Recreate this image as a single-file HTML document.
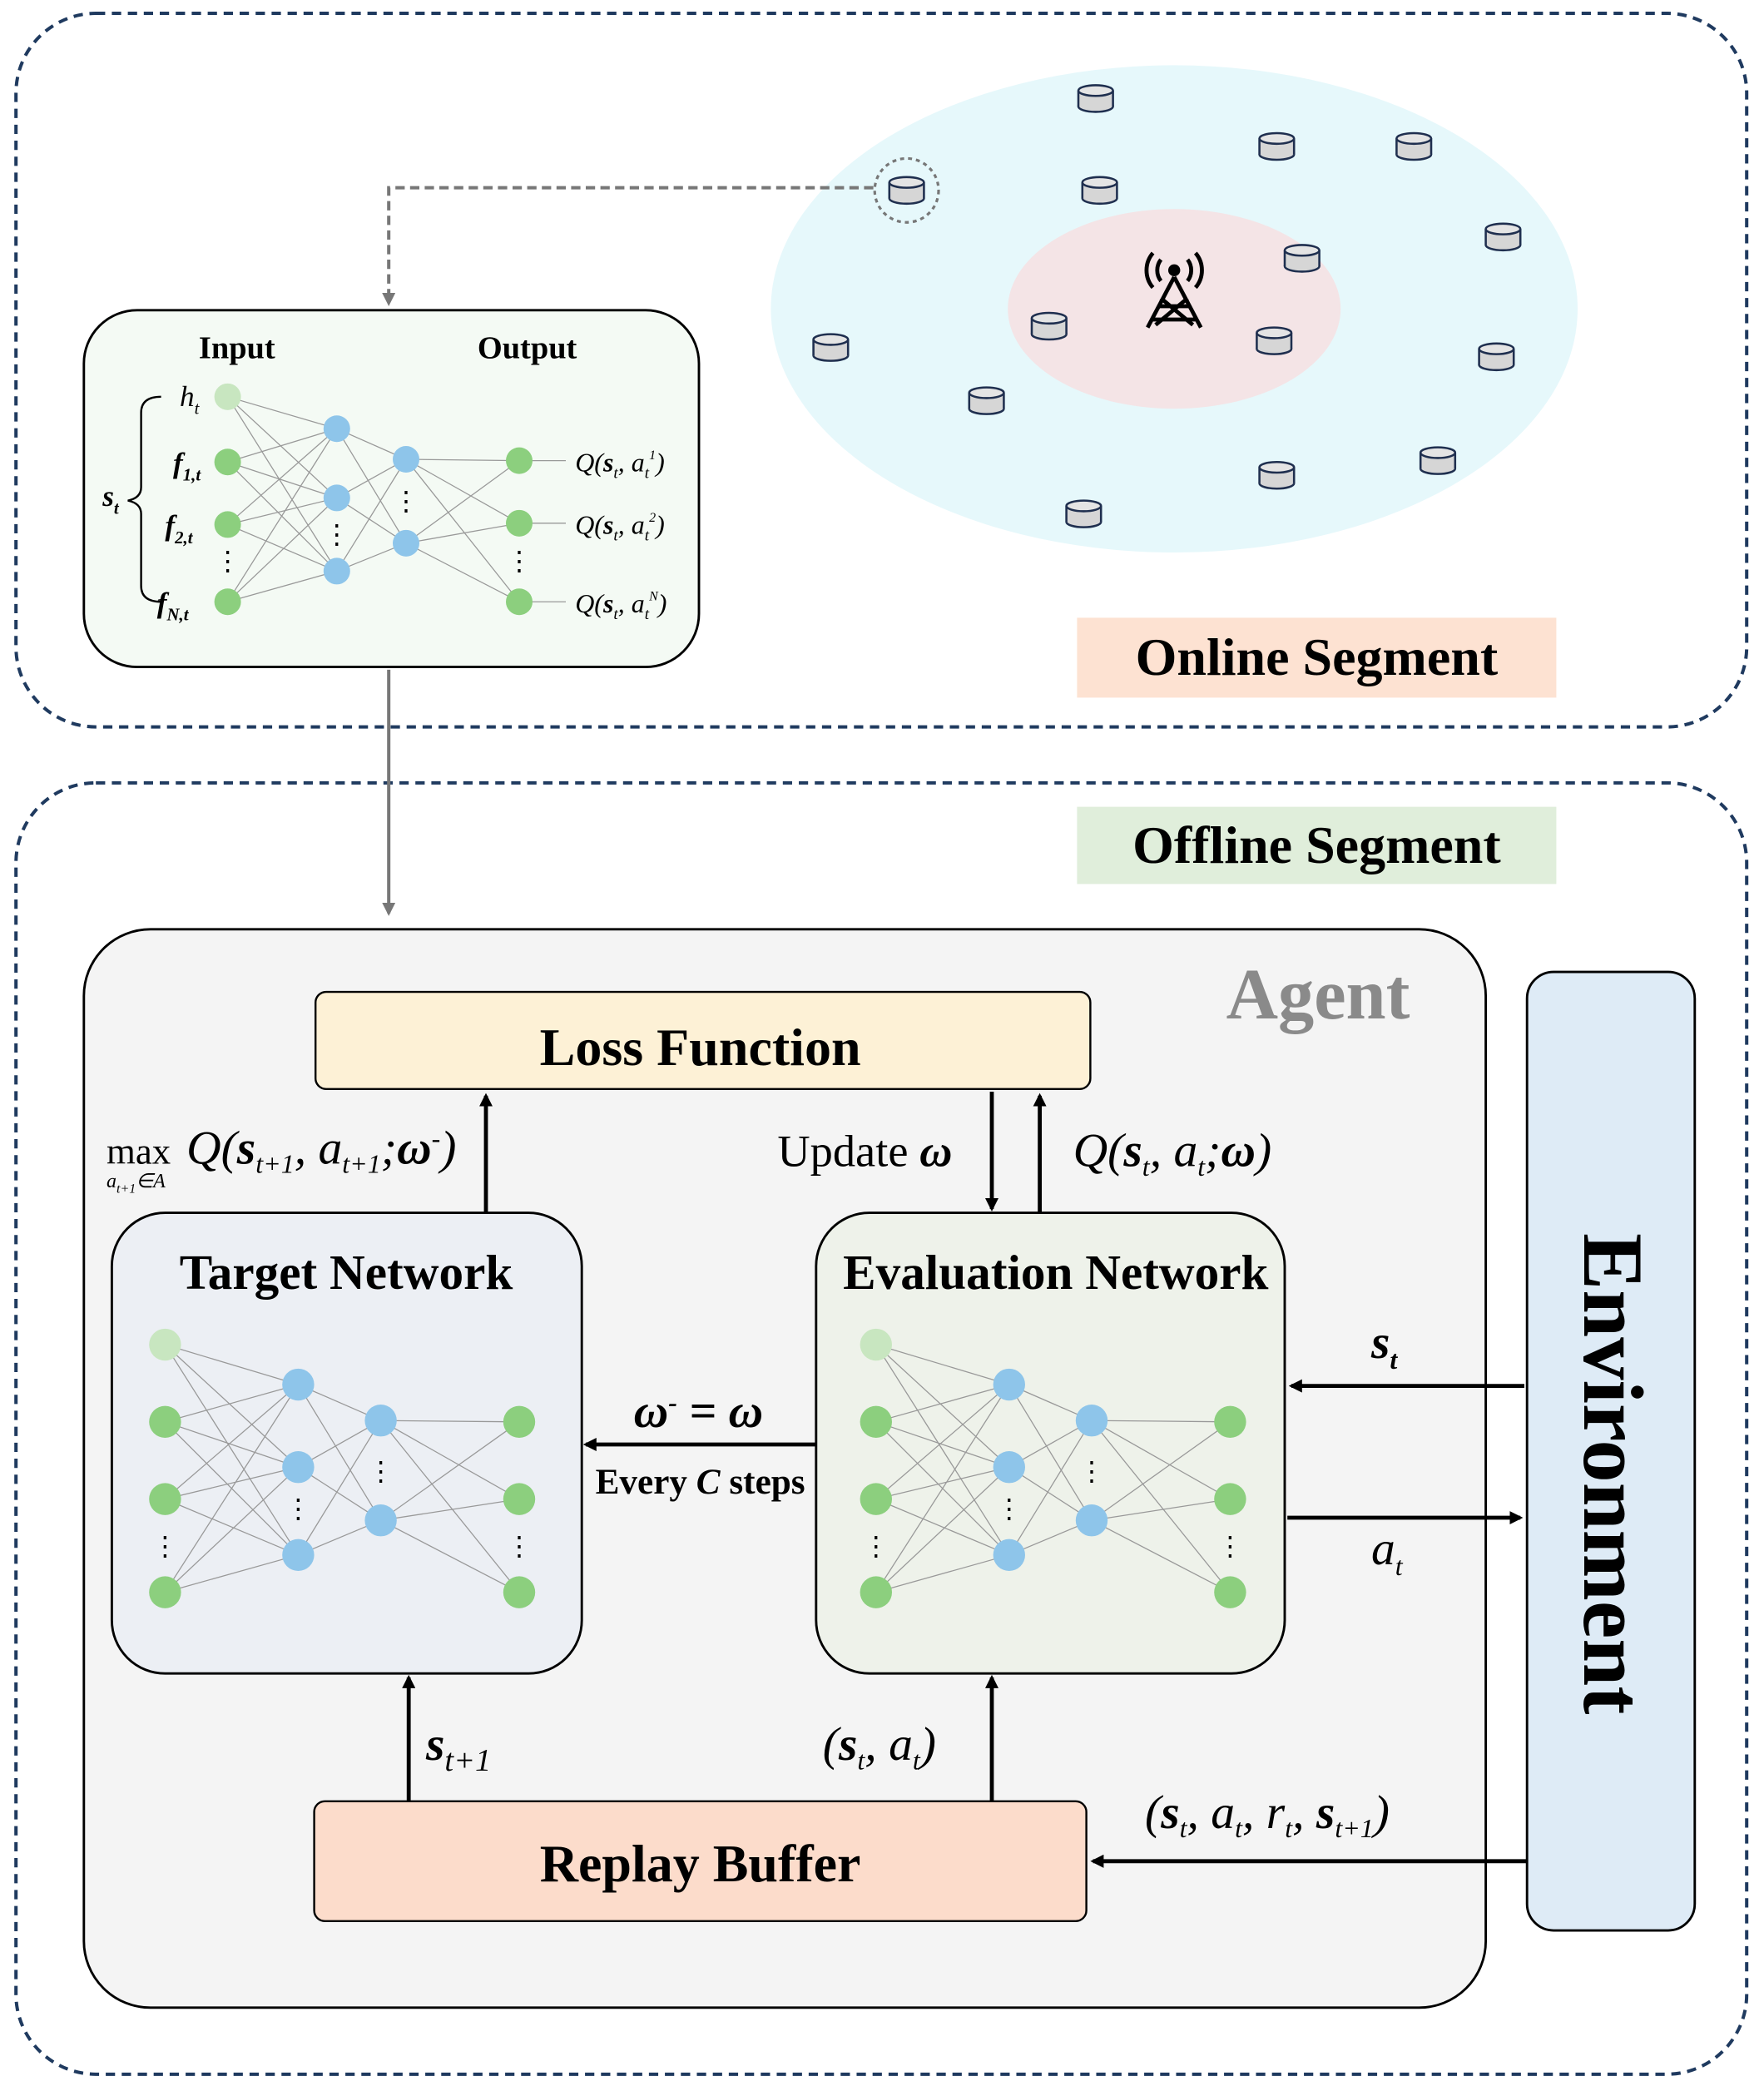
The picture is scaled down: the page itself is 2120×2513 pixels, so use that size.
<!DOCTYPE html>
<html><head><meta charset="utf-8"><style>
html,body{margin:0;padding:0;background:#fff;}
svg{display:block;}
text{font-family:"Liberation Serif",serif;}
</style></head><body>
<svg width="2120" height="2513" viewBox="0 0 1325 1570.6" xmlns="http://www.w3.org/2000/svg">
<defs>
<marker id="ab" markerWidth="10" markerHeight="10" refX="8" refY="5" orient="auto" markerUnits="userSpaceOnUse"><path d="M0,0 L10,5 L0,10 z" fill="#000"/></marker>
<marker id="ag" markerWidth="10" markerHeight="10" refX="8" refY="5" orient="auto" markerUnits="userSpaceOnUse"><path d="M0,0 L10,5 L0,10 z" fill="#777"/></marker>
<g id="cyl"><ellipse cx="0" cy="6" rx="13" ry="4" fill="#d6d6d6" stroke="#1f2f4f" stroke-width="1.6"/><rect x="-13" y="-6" width="26" height="12" fill="#d6d6d6"/><line x1="-13" y1="-6" x2="-13" y2="6" stroke="#1f2f4f" stroke-width="1.6"/><line x1="13" y1="-6" x2="13" y2="6" stroke="#1f2f4f" stroke-width="1.6"/><ellipse cx="0" cy="-6" rx="13" ry="4" fill="#e4e4e4" stroke="#1f2f4f" stroke-width="1.6"/></g>
</defs>
<rect x="12" y="10" width="1300" height="536" rx="60" fill="none" stroke="#1f3a5f" stroke-width="2.5" stroke-dasharray="7,5"/>
<rect x="12" y="588" width="1300" height="970" rx="60" fill="none" stroke="#1f3a5f" stroke-width="2.5" stroke-dasharray="7,5"/>
<ellipse cx="882" cy="232" rx="303" ry="183" fill="#e6f8fb"/>
<ellipse cx="882" cy="232" rx="125" ry="75" fill="#f4e4e6"/>
<g stroke="#000" stroke-width="3" fill="none">
<path d="M882,208 L862,246 M882,208 L902,246 M870,230 L894,230 M866,240 L898,240 M872,224 L896,244 M892,224 L868,244"/>
<circle cx="882" cy="203" r="3" fill="#000"/>
<path d="M872,195 A13,13 0 0 0 872,211 M892,195 A13,13 0 0 1 892,211 M866,190 A20,20 0 0 0 866,216 M898,190 A20,20 0 0 1 898,216"/>
</g>
<use href="#cyl" x="823" y="74"/><use href="#cyl" x="959" y="110"/><use href="#cyl" x="1062" y="110"/>
<use href="#cyl" x="826" y="143"/><use href="#cyl" x="681" y="143"/><use href="#cyl" x="1129" y="178"/>
<use href="#cyl" x="978" y="194"/><use href="#cyl" x="788" y="245"/><use href="#cyl" x="957" y="256"/>
<use href="#cyl" x="624" y="261"/><use href="#cyl" x="1124" y="268"/><use href="#cyl" x="741" y="301"/>
<use href="#cyl" x="1080" y="346"/><use href="#cyl" x="959" y="357"/><use href="#cyl" x="814" y="386"/>
<circle cx="681" cy="143" r="24" fill="none" stroke="#777" stroke-width="2" stroke-dasharray="3,3"/>
<path d="M656,141 L292,141 L292,228" fill="none" stroke="#777" stroke-width="2.5" stroke-dasharray="7,4" marker-end="url(#ag)"/>
<rect x="63" y="233" width="462" height="268" rx="40" fill="#f4faf4" stroke="#000" stroke-width="1.8"/>
<text x="178" y="269" font-size="24" font-weight="bold" text-anchor="middle">Input</text>
<text x="396" y="269" font-size="24" font-weight="bold" text-anchor="middle">Output</text>
<g stroke="#999" stroke-width="0.8">
<path d="M171,298L253,322M171,298L253,374M171,298L253,429M171,347L253,322M171,347L253,374M171,347L253,429M171,394L253,322M171,394L253,374M171,394L253,429M171,452L253,322M171,452L253,374M171,452L253,429M253,322L305,345M253,322L305,408M253,374L305,345M253,374L305,408M253,429L305,345M253,429L305,408M305,345L390,346M305,345L390,393M305,345L390,452M305,408L390,346M305,408L390,393M305,408L390,452M390,346L425,346M390,393L425,393M390,452L425,452"/>
</g>
<g fill="#8ccf7e"><circle cx="171" cy="298" r="10" fill="#c8e6c0"/><circle cx="171" cy="347" r="10"/><circle cx="171" cy="394" r="10"/><circle cx="171" cy="452" r="10"/><circle cx="390" cy="346" r="10"/><circle cx="390" cy="393" r="10"/><circle cx="390" cy="452" r="10"/></g>
<g fill="#8ec5ea"><circle cx="253" cy="322" r="10"/><circle cx="253" cy="374" r="10"/><circle cx="253" cy="429" r="10"/><circle cx="305" cy="345" r="10"/><circle cx="305" cy="408" r="10"/></g>
<g font-size="20" text-anchor="middle"><text x="171" y="428">⋮</text><text x="253" y="408">⋮</text><text x="305" y="383">⋮</text><text x="390" y="428">⋮</text></g>
<g font-style="italic" font-size="22">
<text x="135" y="305">h<tspan font-size="13" dy="6">t</tspan></text>
<text x="130" y="355" font-weight="bold">f<tspan font-size="13" dy="6">1,t</tspan></text>
<text x="124" y="402" font-weight="bold">f<tspan font-size="13" dy="6">2,t</tspan></text>
<text x="118" y="460" font-weight="bold">f<tspan font-size="13" dy="6">N,t</tspan></text>
<text x="77" y="380" font-weight="bold">s<tspan font-size="13" dy="6">t</tspan></text>
<text x="432" y="354" font-size="20">Q(<tspan font-weight="bold">s</tspan><tspan font-size="12" dy="5">t</tspan><tspan dy="-5">, a</tspan><tspan font-size="12" dy="5">t</tspan><tspan font-size="10" dy="-14">1</tspan><tspan dy="9">)</tspan></text>
<text x="432" y="401" font-size="20">Q(<tspan font-weight="bold">s</tspan><tspan font-size="12" dy="5">t</tspan><tspan dy="-5">, a</tspan><tspan font-size="12" dy="5">t</tspan><tspan font-size="10" dy="-14">2</tspan><tspan dy="9">)</tspan></text>
<text x="432" y="460" font-size="20">Q(<tspan font-weight="bold">s</tspan><tspan font-size="12" dy="5">t</tspan><tspan dy="-5">, a</tspan><tspan font-size="12" dy="5">t</tspan><tspan font-size="10" dy="-14">N</tspan><tspan dy="9">)</tspan></text>
</g>
<path d="M121,298 Q106,298 106,310 L106,366 Q106,374 96,376 Q106,378 106,386 L106,440 Q106,452 121,452" fill="none" stroke="#000" stroke-width="1.5"/>
<rect x="809" y="464" width="360" height="60" fill="#fde2d2"/>
<text x="989" y="507" font-size="40" font-weight="bold" text-anchor="middle">Online Segment</text>
<rect x="809" y="606" width="360" height="58" fill="#e0eedb"/>
<text x="989" y="648" font-size="40" font-weight="bold" text-anchor="middle">Offline Segment</text>
<line x1="292" y1="503" x2="292" y2="686" stroke="#777" stroke-width="2.5" marker-end="url(#ag)"/>
<rect x="63" y="698" width="1053" height="810" rx="50" fill="#f4f4f4" stroke="#000" stroke-width="1.8"/>
<text x="990" y="765" font-size="54" font-weight="bold" fill="#8a8a8a" text-anchor="middle">Agent</text>
<rect x="1147" y="730" width="126" height="720" rx="20" fill="#deebf6" stroke="#000" stroke-width="1.8"/>
<text transform="translate(1190,1107) rotate(90)" font-size="64" font-weight="bold" text-anchor="middle">Environment</text>
<rect x="237" y="745" width="582" height="73" rx="8" fill="#fdf1d6" stroke="#000" stroke-width="1.5"/>
<text x="526" y="800" font-size="40" font-weight="bold" text-anchor="middle">Loss Function</text>
<rect x="84" y="911" width="353" height="346" rx="40" fill="#eceff4" stroke="#000" stroke-width="1.8"/>
<text x="260" y="968" font-size="37" font-weight="bold" text-anchor="middle">Target Network</text>
<rect x="613" y="911" width="352" height="346" rx="40" fill="#eef2ea" stroke="#000" stroke-width="1.8"/>
<text x="793" y="968" font-size="37" font-weight="bold" text-anchor="middle">Evaluation Network</text>
<rect x="236" y="1353" width="580" height="90" rx="8" fill="#fcdccb" stroke="#000" stroke-width="1.5"/>
<text x="526" y="1413" font-size="40" font-weight="bold" text-anchor="middle">Replay Buffer</text>
<g id="nn">
<g stroke="#999" stroke-width="0.8">
<path d="M124,1010L224,1040M124,1010L224,1102M124,1010L224,1168M124,1068L224,1040M124,1068L224,1102M124,1068L224,1168M124,1126L224,1040M124,1126L224,1102M124,1126L224,1168M124,1196L224,1040M124,1196L224,1102M124,1196L224,1168M224,1040L286,1067M224,1040L286,1142M224,1102L286,1067M224,1102L286,1142M224,1168L286,1067M224,1168L286,1142M286,1067L390,1068M286,1067L390,1126M286,1067L390,1196M286,1142L390,1068M286,1142L390,1126M286,1142L390,1196"/>
</g>
<g fill="#8ccf7e"><circle cx="124" cy="1010" r="12" fill="#c8e6c0"/><circle cx="124" cy="1068" r="12"/><circle cx="124" cy="1126" r="12"/><circle cx="124" cy="1196" r="12"/><circle cx="390" cy="1068" r="12"/><circle cx="390" cy="1126" r="12"/><circle cx="390" cy="1196" r="12"/></g>
<g fill="#8ec5ea"><circle cx="224" cy="1040" r="12"/><circle cx="224" cy="1102" r="12"/><circle cx="224" cy="1168" r="12"/><circle cx="286" cy="1067" r="12"/><circle cx="286" cy="1142" r="12"/></g>
<g font-size="20" text-anchor="middle"><text x="124" y="1168">⋮</text><text x="224" y="1140">⋮</text><text x="286" y="1112">⋮</text><text x="390" y="1168">⋮</text></g>
</g>
<use href="#nn" x="534" y="0"/>
<g stroke="#000" stroke-width="3" marker-end="url(#ab)">
<line x1="365" y1="911" x2="365" y2="823"/>
<line x1="745" y1="820" x2="745" y2="908"/>
<line x1="781" y1="911" x2="781" y2="823"/>
<line x1="613" y1="1085" x2="440" y2="1085"/>
<line x1="1145" y1="1041" x2="970" y2="1041"/>
<line x1="967" y1="1140" x2="1142" y2="1140"/>
<line x1="307" y1="1353" x2="307" y2="1260"/>
<line x1="745" y1="1353" x2="745" y2="1260"/>
<line x1="1147" y1="1398" x2="821" y2="1398"/>
</g>
<g font-size="36" font-style="italic">
<text x="80" y="874" font-style="normal" font-size="28">max</text>
<text x="80" y="892" font-size="15">a<tspan font-size="10" dy="4">t+1</tspan><tspan dy="-4">∈A</tspan></text>
<text x="140" y="874">Q(<tspan font-weight="bold">s</tspan><tspan font-size="20" dy="7">t+1</tspan><tspan dy="-7">, a</tspan><tspan font-size="20" dy="7">t+1</tspan><tspan dy="-7">;</tspan><tspan font-weight="bold">ω</tspan><tspan dy="-12" font-size="20">-</tspan><tspan dy="12">)</tspan></text>
<text x="584" y="876" font-style="normal" font-size="34">Update <tspan font-style="italic" font-weight="bold">ω</tspan></text>
<text x="806" y="876">Q(<tspan font-weight="bold">s</tspan><tspan font-size="20" dy="7">t</tspan><tspan dy="-7">, a</tspan><tspan font-size="20" dy="7">t</tspan><tspan dy="-7">;</tspan><tspan font-weight="bold">ω</tspan>)</text>
<text x="476" y="1072" font-weight="bold">ω<tspan font-size="20" dy="-12">-</tspan><tspan dy="12"> = ω</tspan></text>
<text x="1030" y="1020" font-weight="bold">s<tspan font-size="20" dy="8">t</tspan></text>
<text x="1030" y="1175">a<tspan font-size="20" dy="8">t</tspan></text>
<text x="320" y="1322" font-weight="bold">s<tspan font-size="24" dy="8" font-weight="normal">t+1</tspan></text>
<text x="618" y="1322">(<tspan font-weight="bold">s</tspan><tspan font-size="20" dy="7">t</tspan><tspan dy="-7">, a</tspan><tspan font-size="20" dy="7">t</tspan><tspan dy="-7">)</tspan></text>
<text x="860" y="1373">(<tspan font-weight="bold">s</tspan><tspan font-size="20" dy="7">t</tspan><tspan dy="-7">, a</tspan><tspan font-size="20" dy="7">t</tspan><tspan dy="-7">, r</tspan><tspan font-size="20" dy="7">t</tspan><tspan dy="-7">, </tspan><tspan font-weight="bold">s</tspan><tspan font-size="20" dy="7">t+1</tspan><tspan dy="-7">)</tspan></text>
</g>
<text x="526" y="1122" font-size="27" font-weight="bold" text-anchor="middle">Every <tspan font-style="italic">C</tspan> steps</text>
</svg>
</body></html>
